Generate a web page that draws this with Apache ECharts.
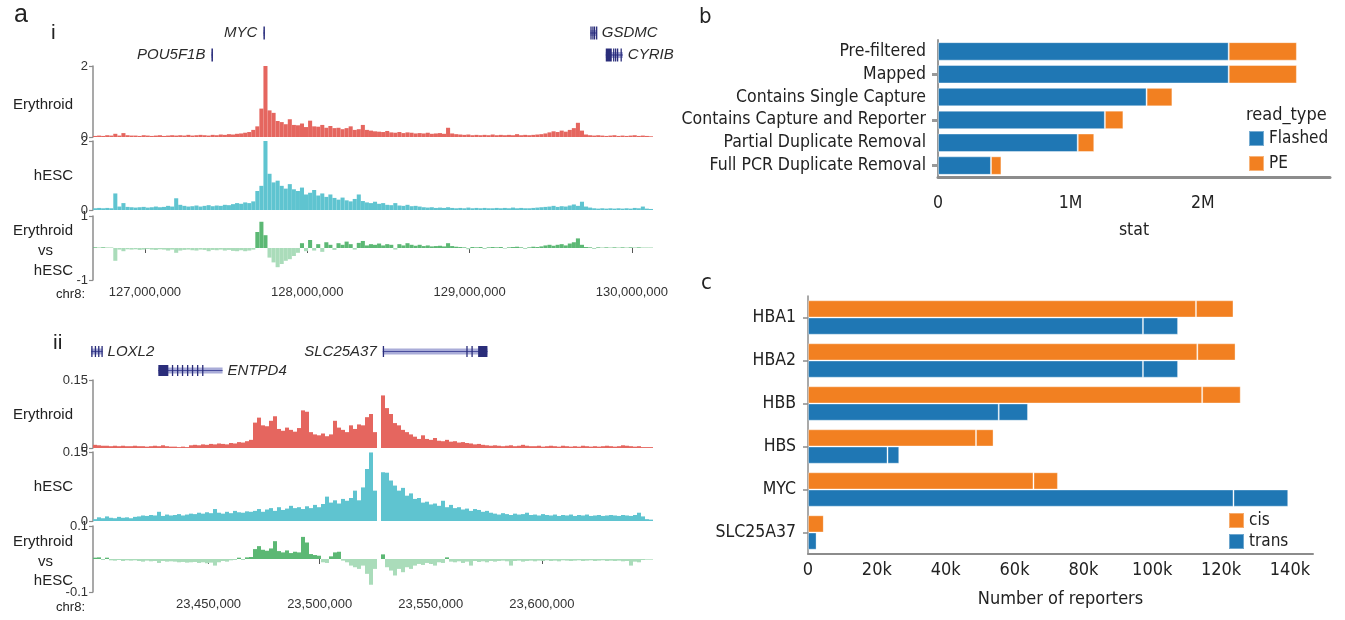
<!DOCTYPE html>
<html><head><meta charset="utf-8">
<script src="https://cdn.jsdelivr.net/npm/echarts@6/dist/echarts.min.js"></script>
<style>html,body{margin:0;padding:0;background:#fff}#c{width:1345px;height:620px}</style>
</head><body><div id="c"></div>
<script>
// ---------------- Panel a(i): chr8 MYC locus, 25 kb bins ----------------
const binStartI = 126680000, binSizeI = 25000;
const erythroidI = [
0.03,0.04,0.03,0.05,0.04,0.09,0.04,0.11,0.05,0.04,
0.04,0.03,0.05,0.04,0.03,0.04,0.05,0.03,0.04,0.05,
0.04,0.05,0.04,0.06,0.04,0.05,0.06,0.05,0.04,0.06,
0.05,0.07,0.06,0.08,0.07,0.09,0.1,0.12,0.14,0.2,
0.3,0.8,2.0,0.75,0.68,0.45,0.42,0.36,0.5,0.34,
0.33,0.38,0.28,0.46,0.3,0.29,0.34,0.26,0.31,0.25,
0.26,0.22,0.25,0.3,0.2,0.22,0.34,0.2,0.18,0.16,
0.15,0.14,0.17,0.13,0.12,0.14,0.11,0.13,0.12,0.1,
0.11,0.1,0.12,0.09,0.1,0.11,0.09,0.26,0.1,0.08,
0.07,0.06,0.07,0.05,0.06,0.05,0.06,0.05,0.07,0.05,
0.06,0.05,0.06,0.05,0.08,0.05,0.06,0.05,0.06,0.07,
0.08,0.1,0.13,0.16,0.14,0.18,0.15,0.2,0.25,0.4,
0.18,0.07,0.05,0.04,0.05,0.04,0.03,0.04,0.05,0.03,
0.04,0.03,0.04,0.05,0.03,0.04,0.03,0.02];
const hescI = [
0.05,0.06,0.05,0.06,0.05,0.48,0.1,0.2,0.09,0.08,
0.07,0.08,0.09,0.07,0.08,0.1,0.08,0.09,0.12,0.1,
0.34,0.15,0.12,0.1,0.11,0.13,0.1,0.12,0.14,0.11,
0.13,0.12,0.15,0.14,0.17,0.2,0.18,0.22,0.2,0.25,
0.55,0.7,2.0,1.05,0.8,0.85,0.7,0.62,0.75,0.6,
0.55,0.65,0.45,0.5,0.58,0.42,0.48,0.38,0.45,0.35,
0.3,0.36,0.28,0.25,0.32,0.45,0.26,0.22,0.2,0.24,
0.18,0.2,0.15,0.14,0.2,0.13,0.12,0.15,0.11,0.12,
0.1,0.08,0.07,0.08,0.06,0.07,0.06,0.08,0.06,0.05,
0.06,0.05,0.07,0.05,0.06,0.05,0.06,0.05,0.05,0.06,
0.05,0.06,0.05,0.07,0.05,0.06,0.05,0.05,0.06,0.07,
0.08,0.09,0.1,0.12,0.09,0.11,0.1,0.13,0.16,0.12,
0.24,0.1,0.07,0.05,0.04,0.05,0.04,0.05,0.04,0.05,
0.04,0.05,0.04,0.06,0.05,0.1,0.04,0.03];
const diffI = [
0.02,0.01,0.02,0.01,0.01,-0.4,-0.05,-0.1,-0.04,-0.05,
-0.04,-0.06,-0.05,-0.03,-0.05,-0.06,-0.04,-0.05,-0.08,-0.05,
-0.15,-0.08,-0.06,-0.05,-0.07,-0.08,-0.05,-0.06,-0.1,-0.06,
-0.07,-0.05,-0.08,-0.06,-0.09,-0.1,-0.07,-0.1,-0.08,-0.05,
0.5,0.82,0.4,-0.3,-0.45,-0.6,-0.5,-0.4,-0.35,-0.25,
-0.15,0.15,-0.1,0.25,-0.08,0.12,-0.12,0.18,0.1,-0.06,
0.15,0.1,0.2,0.12,-0.05,0.16,0.22,0.08,0.12,0.1,
0.14,0.08,0.12,0.1,-0.05,0.12,0.08,0.15,0.1,0.07,
0.1,0.06,0.08,0.05,0.06,0.07,0.05,0.15,0.06,0.04,
0.03,0.02,-0.04,0.03,0.02,0.03,-0.03,0.02,0.03,0.02,
0.03,-0.02,0.02,0.03,0.04,0.02,-0.03,0.02,0.04,0.03,
0.05,0.08,0.1,0.07,0.1,0.12,0.08,0.14,0.18,0.3,
0.1,0.03,0.02,-0.03,0.02,0.01,0.02,0.01,0.02,0.01,
0.02,0.01,0.02,0.01,0.02,0.01,0.01,0.01];
const ticksI = [127000000,128000000,129000000,130000000];

// ---------------- Panel a(ii): chr8 SLC25A37 locus, 1.8 kb bins ----------------
const binStartII = 23398000, binSizeII = 1800;
const erythroidII = [
0.007,0.006,0.005,0.005,0.004,0.005,0.004,0.005,0.004,0.004,
0.005,0.004,0.004,0.003,0.004,0.005,0.004,0.006,0.004,0.003,
0.003,0.002,0.003,0.002,0.006,0.007,0.006,0.008,0.007,0.009,
0.008,0.01,0.009,0.008,0.011,0.01,0.013,0.012,0.015,0.018,
0.056,0.067,0.05,0.048,0.06,0.07,0.042,0.038,0.045,0.04,
0.036,0.044,0.083,0.08,0.035,0.03,0.028,0.032,0.026,0.03,
0.06,0.045,0.04,0.035,0.05,0.042,0.052,0.05,0.068,0.075,
0.035,null,0.116,0.088,0.075,0.055,0.05,0.04,0.035,0.03,
0.025,0.02,0.028,0.02,0.018,0.022,0.016,0.015,0.018,0.014,
0.015,0.012,0.013,0.011,0.01,0.008,0.009,0.007,0.006,0.005,
0.006,0.005,0.004,0.005,0.006,0.004,0.005,0.007,0.005,0.004,
0.004,0.005,0.003,0.004,0.005,0.004,0.003,0.005,0.004,0.003,
0.004,0.003,0.005,0.004,0.003,0.004,0.003,0.004,0.005,0.004,
0.003,0.004,0.006,0.005,0.004,0.003,0.004,0.002,0.002,0.002];
const hescII = [
0.004,0.008,0.006,0.01,0.007,0.006,0.009,0.007,0.008,0.006,
0.009,0.01,0.012,0.011,0.013,0.012,0.02,0.011,0.014,0.012,
0.013,0.015,0.012,0.014,0.016,0.015,0.018,0.016,0.019,0.017,
0.026,0.018,0.016,0.02,0.017,0.022,0.019,0.018,0.021,0.02,
0.022,0.026,0.02,0.025,0.028,0.022,0.03,0.024,0.027,0.033,
0.028,0.03,0.026,0.032,0.028,0.035,0.03,0.037,0.053,0.04,
0.045,0.038,0.048,0.044,0.05,0.066,0.045,0.073,0.113,0.149,
0.066,null,0.106,0.105,0.088,0.077,0.066,0.072,0.055,0.06,
0.048,0.05,0.04,0.042,0.036,0.038,0.033,0.044,0.03,0.035,
0.028,0.03,0.025,0.027,0.022,0.026,0.024,0.02,0.022,0.018,
0.016,0.014,0.017,0.015,0.013,0.016,0.014,0.015,0.018,0.013,
0.014,0.012,0.015,0.013,0.012,0.014,0.011,0.013,0.012,0.014,
0.011,0.013,0.012,0.014,0.011,0.012,0.013,0.011,0.012,0.013,
0.012,0.011,0.013,0.012,0.011,0.013,0.018,0.01,0.004,0.003];
const diffII = [
0.004,0.005,-0.003,0.004,-0.004,-0.005,-0.003,-0.006,-0.004,-0.005,
-0.004,-0.006,-0.008,-0.005,-0.007,-0.006,-0.012,-0.006,-0.008,-0.007,
-0.008,-0.01,-0.009,-0.011,-0.01,-0.009,-0.012,-0.01,-0.013,-0.011,
-0.02,-0.01,-0.006,-0.008,-0.004,-0.003,0.004,-0.003,0.005,0.006,
0.03,0.039,0.028,0.025,0.032,0.054,0.024,0.02,0.026,0.018,
0.022,0.02,0.067,0.05,0.015,0.012,0.01,-0.01,-0.012,0.008,
0.02,0.022,-0.005,-0.01,-0.02,-0.025,-0.03,-0.02,-0.045,-0.078,
-0.03,null,0.014,-0.025,-0.035,-0.05,-0.03,-0.04,-0.025,-0.03,
-0.02,-0.015,-0.018,-0.012,-0.015,-0.02,-0.01,-0.012,0.005,-0.008,
-0.01,-0.007,-0.012,-0.008,-0.02,-0.006,-0.009,-0.007,-0.01,-0.006,
-0.008,-0.006,-0.005,-0.007,-0.02,-0.006,-0.005,-0.008,-0.006,-0.005,
-0.007,-0.005,-0.006,-0.004,-0.006,-0.005,-0.007,-0.004,-0.005,-0.006,
-0.005,-0.004,-0.006,-0.005,-0.004,-0.006,-0.005,-0.004,-0.006,-0.005,
-0.006,-0.005,-0.007,-0.006,-0.02,-0.008,-0.01,-0.003,-0.002,-0.002];
const ticksII = [23450000,23500000,23550000,23600000];

// ---------------- Gene models ----------------
const geneNamesI = ['MYC','POU5F1B','GSDMC','CYRIB'];
const geneStartsI = [127730000,127409700,129744000,129839000];
const geneEndsI = [127739000,127419000,129784000,129944000];
const geneRowsI = [0,1,0,1];
const geneSideI = ['left','left','right','right'];
const geneExonsI = [
  [[127730000,127739000]],
  [[127409700,127419000]],
  [[129744000,129748000],[129756000,129760000],[129766000,129770000],[129779000,129784000]],
  [[129839000,129876000],[129884000,129888000],[129896000,129899000],[129908000,129911000],[129930000,129933000]]
];
const geneNamesII = ['LOXL2','ENTPD4','SLC25A37'];
const geneStartsII = [23397200,23427400,23528400];
const geneEndsII = [23402300,23456300,23575500];
const geneRowsII = [0,1,0];
const geneSideII = ['right','right','left'];
const geneExonsII = [
  [[23397200,23397800],[23398800,23399300],[23400300,23400800],[23401800,23402300]],
  [[23427400,23431900],[23433500,23434000],[23435800,23436300],[23438000,23438500],[23440300,23440800],[23442500,23443000],[23444800,23445300],[23447100,23447600]],
  [[23528400,23528800],[23566000,23566500],[23568300,23568800],[23571300,23575500]]
];

// ---------------- Panel b ----------------
const bCategories = ['Pre-filtered','Mapped','Contains Single Capture','Contains Capture and Reporter','Partial Duplicate Removal','Full PCR Duplicate Removal'];
const bFlashed = [2195000,2195000,1575000,1260000,1055000,400000];
const bPE = [515000,515000,195000,140000,125000,79000];
const bTicks = [0,1000000,2000000];

// ---------------- Panel c ----------------
const cGenes = ['HBA1','HBA2','HBB','HBS','MYC','SLC25A37'];
const cisMain = [112700,113100,114500,48800,65500,4600];
const cisRest = [10900,11100,11200,5100,7100,0];
const transMain = [97300,97300,55400,23100,123600,2500];
const transRest = [10200,10200,8500,3400,15900,0];
const cTicks = [0,20000,40000,60000,80000,100000,120000,140000];

// ================= build =================
const RED = '#e5665f', CYAN = '#5fc4d0', GPOS = '#5cb874', GNEG = '#aadcba';
const BLUE = '#1f77b4', ORANGE = '#f28021';
const FA = '"Liberation Sans", Arial, sans-serif';
const FB = '"DejaVu Sans Condensed", "DejaVu Sans", sans-serif';
const AX = '#8c8c8c';
const trackLeft = 93, trackWidth = 560;
const endI = binStartI + binSizeI * erythroidI.length;
const endII = binStartII + binSizeII * erythroidII.length;

function bins(start, size, vals) { return vals.map((v, k) => [start + size * (k + 0.5), v]); }
function geneData(starts, ends, rows) { return starts.map((s, i) => [s, ends[i], rows[i], i]); }

function geneRenderer(names, sides, exons, exonH) {
  return function (params, api) {
    const i = api.value(3), row = api.value(2);
    const p0 = api.coord([api.value(0), row]);
    const p1 = api.coord([api.value(1), row]);
    const y = p0[1];
    const ch = [];
    ch.push({type: 'rect', shape: {x: p0[0], y: y - 3, width: Math.max(p1[0] - p0[0], 1), height: 6}, style: {fill: '#a9acd8'}});
    ch.push({type: 'rect', shape: {x: p0[0], y: y - 0.6, width: Math.max(p1[0] - p0[0], 1), height: 1.2}, style: {fill: '#4b4f9e'}});
    exons[i].forEach(e => {
      const a = api.coord([e[0], row]), b = api.coord([e[1], row]);
      ch.push({type: 'rect', shape: {x: a[0], y: y - exonH / 2, width: Math.max(b[0] - a[0], 1.3), height: exonH}, style: {fill: '#2a2d7a'}});
    });
    const left = sides[i] === 'left';
    ch.push({type: 'text', style: {text: names[i], x: left ? p0[0] - 6 : p1[0] + 5, y: y,
      align: left ? 'right' : 'left', verticalAlign: 'middle', font: 'italic 15px ' + FA, fill: '#2b2b2b'}});
    return {type: 'group', children: ch};
  };
}

const grids = [
  {left: trackLeft, width: trackWidth, top: 22, height: 44},   // 0 genes i
  {left: trackLeft, width: trackWidth, top: 66, height: 71},   // 1 ery i
  {left: trackLeft, width: trackWidth, top: 141, height: 69},  // 2 hesc i
  {left: trackLeft, width: trackWidth, top: 216, height: 64},  // 3 diff i
  {left: trackLeft, width: trackWidth, top: 342, height: 38},  // 4 genes ii
  {left: trackLeft, width: trackWidth, top: 380, height: 68},  // 5 ery ii
  {left: trackLeft, width: trackWidth, top: 452, height: 69},  // 6 hesc ii
  {left: trackLeft, width: trackWidth, top: 526, height: 66},  // 7 diff ii
  {left: 938, width: 392, top: 40, height: 137},               // 8 panel b
  {left: 808, width: 505, top: 296, height: 258}               // 9 panel c
];

function hiddenX(gi, min, max) { return {gridIndex: gi, type: 'value', min, max, show: false}; }
function labelX(gi, min, max, ticks) {
  return {gridIndex: gi, type: 'value', min, max,
    axisLine: {show: false}, splitLine: {show: false},
    axisTick: {show: true, customValues: ticks, length: 5, lineStyle: {color: '#555', width: 1}},
    axisLabel: {customValues: ticks, margin: 6, fontSize: 13, fontFamily: FA, color: '#333',
      formatter: v => Number(v).toLocaleString('en-US')}};
}
function trackY(gi, min, max, labels) {
  return {gridIndex: gi, type: 'value', min, max,
    axisLine: {show: true, lineStyle: {color: AX, width: 1.5}},
    axisTick: {show: true, customValues: labels, length: 4, lineStyle: {color: AX, width: 1.2}},
    axisLabel: {customValues: labels, margin: 5, fontSize: 13, fontFamily: FA, color: '#333'},
    splitLine: {show: false}};
}
const geneY = gi => ({gridIndex: gi, type: 'category', data: ['r0', 'r1'], inverse: true, show: false});

const xAxis = [
  hiddenX(0, binStartI, endI), hiddenX(1, binStartI, endI), hiddenX(2, binStartI, endI), labelX(3, binStartI, endI, ticksI),
  hiddenX(4, binStartII, endII), hiddenX(5, binStartII, endII), hiddenX(6, binStartII, endII), labelX(7, binStartII, endII, ticksII),
  {gridIndex: 8, type: 'value', min: 0, max: 2960000,
    axisLine: {show: true, lineStyle: {color: AX, width: 3}}, axisTick: {show: false}, splitLine: {show: false},
    axisLabel: {customValues: bTicks, margin: 17, fontSize: 17.5, fontFamily: FB, color: '#222',
      formatter: v => v === 0 ? '0' : (v / 1e6) + 'M'},
    name: 'stat', nameLocation: 'middle', nameGap: 44, nameTextStyle: {fontSize: 17.5, fontFamily: FB, color: '#222'}},
  {gridIndex: 9, type: 'value', min: 0, max: 146700,
    axisLine: {show: true, lineStyle: {color: AX, width: 2}}, axisTick: {show: false}, splitLine: {show: false},
    axisLabel: {customValues: cTicks, margin: 7, fontSize: 18, fontFamily: FB, color: '#222',
      formatter: v => v === 0 ? '0' : (v / 1000) + 'k'},
    name: 'Number of reporters', nameLocation: 'middle', nameGap: 36, nameTextStyle: {fontSize: 18, fontFamily: FB, color: '#222'}}
];
const yAxis = [
  geneY(0), trackY(1, 0, 2, [0, 2]), trackY(2, 0, 2, [0, 2]), trackY(3, -1, 1, [-1, 1]),
  geneY(4), trackY(5, 0, 0.15, [0, 0.15]), trackY(6, 0, 0.15, [0, 0.15]), trackY(7, -0.1, 0.1, [-0.1, 0.1]),
  {gridIndex: 8, type: 'category', data: bCategories, inverse: true,
    axisLine: {show: true, lineStyle: {color: '#999', width: 2}},
    axisTick: {show: true, alignWithLabel: true, interval: (i) => i % 2 === 1, length: 6, lineStyle: {color: '#999', width: 3}},
    axisLabel: {interval: 0, fontSize: 17.5, fontFamily: FB, color: '#222', margin: 12}},
  {gridIndex: 9, type: 'category', data: cGenes, inverse: true,
    axisLine: {show: true, lineStyle: {color: AX, width: 1.5}},
    axisTick: {show: true, alignWithLabel: true, length: 5, lineStyle: {color: AX, width: 1.5}},
    axisLabel: {interval: 0, fontSize: 17.5, fontFamily: FB, color: '#222', margin: 12}}
];

const bwI = binSizeI / (endI - binStartI) * trackWidth;
const bwII = binSizeII / (endII - binStartII) * trackWidth;
function track(gi, start, size, vals, color, bw) {
  return {type: 'bar', xAxisIndex: gi, yAxisIndex: gi, data: bins(start, size, vals), barWidth: bw,
    itemStyle: {color: color}, silent: true};
}
const diffColor = p => (p.value[1] >= 0 ? GPOS : GNEG);

const series = [
  {type: 'custom', xAxisIndex: 0, yAxisIndex: 0, data: geneData(geneStartsI, geneEndsI, geneRowsI),
    encode: {x: [0, 1], y: 2}, renderItem: geneRenderer(geneNamesI, geneSideI, geneExonsI, 13), clip: false},
  track(1, binStartI, binSizeI, erythroidI, RED, bwI),
  track(2, binStartI, binSizeI, hescI, CYAN, bwI),
  track(3, binStartI, binSizeI, diffI, diffColor, bwI),
  {type: 'custom', xAxisIndex: 4, yAxisIndex: 4, data: geneData(geneStartsII, geneEndsII, geneRowsII),
    encode: {x: [0, 1], y: 2}, renderItem: geneRenderer(geneNamesII, geneSideII, geneExonsII, 11), clip: false},
  track(5, binStartII, binSizeII, erythroidII, RED, bwII),
  track(6, binStartII, binSizeII, hescII, CYAN, bwII),
  track(7, binStartII, binSizeII, diffII, diffColor, bwII),
  {name: 'Flashed', type: 'bar', xAxisIndex: 8, yAxisIndex: 8, stack: 'b', data: bFlashed, barCategoryGap: '19%',
    itemStyle: {color: BLUE, borderColor: 'rgba(255,255,255,0.4)', borderWidth: 1}},
  {name: 'PE', type: 'bar', xAxisIndex: 8, yAxisIndex: 8, stack: 'b', data: bPE,
    itemStyle: {color: ORANGE, borderColor: 'rgba(255,255,255,0.4)', borderWidth: 1}},
  {name: 'cis', type: 'bar', xAxisIndex: 9, yAxisIndex: 9, stack: 'cis', data: cisMain, barCategoryGap: '20%', barGap: '0%',
    itemStyle: {color: ORANGE, borderColor: 'rgba(255,255,255,0.35)', borderWidth: 1}},
  {name: 'cis', type: 'bar', xAxisIndex: 9, yAxisIndex: 9, stack: 'cis', data: cisRest,
    itemStyle: {color: ORANGE, borderColor: 'rgba(255,255,255,0.35)', borderWidth: 1}},
  {name: 'trans', type: 'bar', xAxisIndex: 9, yAxisIndex: 9, stack: 'trans', data: transMain, barGap: '0%',
    itemStyle: {color: BLUE, borderColor: 'rgba(255,255,255,0.35)', borderWidth: 1}},
  {name: 'trans', type: 'bar', xAxisIndex: 9, yAxisIndex: 9, stack: 'trans', data: transRest,
    itemStyle: {color: BLUE, borderColor: 'rgba(255,255,255,0.35)', borderWidth: 1}}
];

function txt(t, x, y, size, align, family) {
  return {type: 'text', x: x, y: y, silent: true,
    style: {text: t, fontSize: size, fontFamily: family || FA, fill: '#222',
      textAlign: align || 'left', align: align || 'left', textVerticalAlign: 'middle', verticalAlign: 'middle'}};
}
const graphic = [
  txt('a', 14, 15, 25, 'left'),
  txt('i', 51, 33, 21, 'left'),
  txt('ii', 53, 343, 21, 'left'),
  txt('b', 699, 17, 22, 'left', FB),
  txt('c', 701, 283, 22, 'left', FB),
  txt('Erythroid', 73, 105, 15, 'right'),
  txt('hESC', 73, 176, 15, 'right'),
  txt('Erythroid', 73, 231, 15, 'right'),
  txt('vs', 53, 251, 15, 'right'),
  txt('hESC', 73, 271, 15, 'right'),
  txt('chr8:', 85, 294, 13, 'right'),
  txt('Erythroid', 73, 415, 15, 'right'),
  txt('hESC', 73, 487, 15, 'right'),
  txt('Erythroid', 73, 542, 15, 'right'),
  txt('vs', 53, 562, 15, 'right'),
  txt('hESC', 73, 581, 15, 'right'),
  txt('chr8:', 85, 607, 13, 'right'),
  txt('read_type', 1246, 115, 18, 'left', FB)
];

const legendText = {fontSize: 17, fontFamily: FB, color: '#222'};
const option = {
  animation: false,
  backgroundColor: '#fff',
  grid: grids, xAxis: xAxis, yAxis: yAxis, series: series, graphic: graphic,
  legend: [
    {data: ['Flashed', 'PE'], orient: 'vertical', left: 1243, top: 125, itemWidth: 15, itemHeight: 15, itemGap: 8,
      icon: 'rect', selectedMode: false, textStyle: legendText},
    {data: ['cis', 'trans'], orient: 'vertical', left: 1223, top: 507, itemWidth: 15, itemHeight: 15, itemGap: 4,
      icon: 'rect', selectedMode: false, textStyle: legendText}
  ]
};
const chart = echarts.init(document.getElementById('c'), null, {renderer: 'canvas'});
chart.setOption(option);
</script></body></html>
